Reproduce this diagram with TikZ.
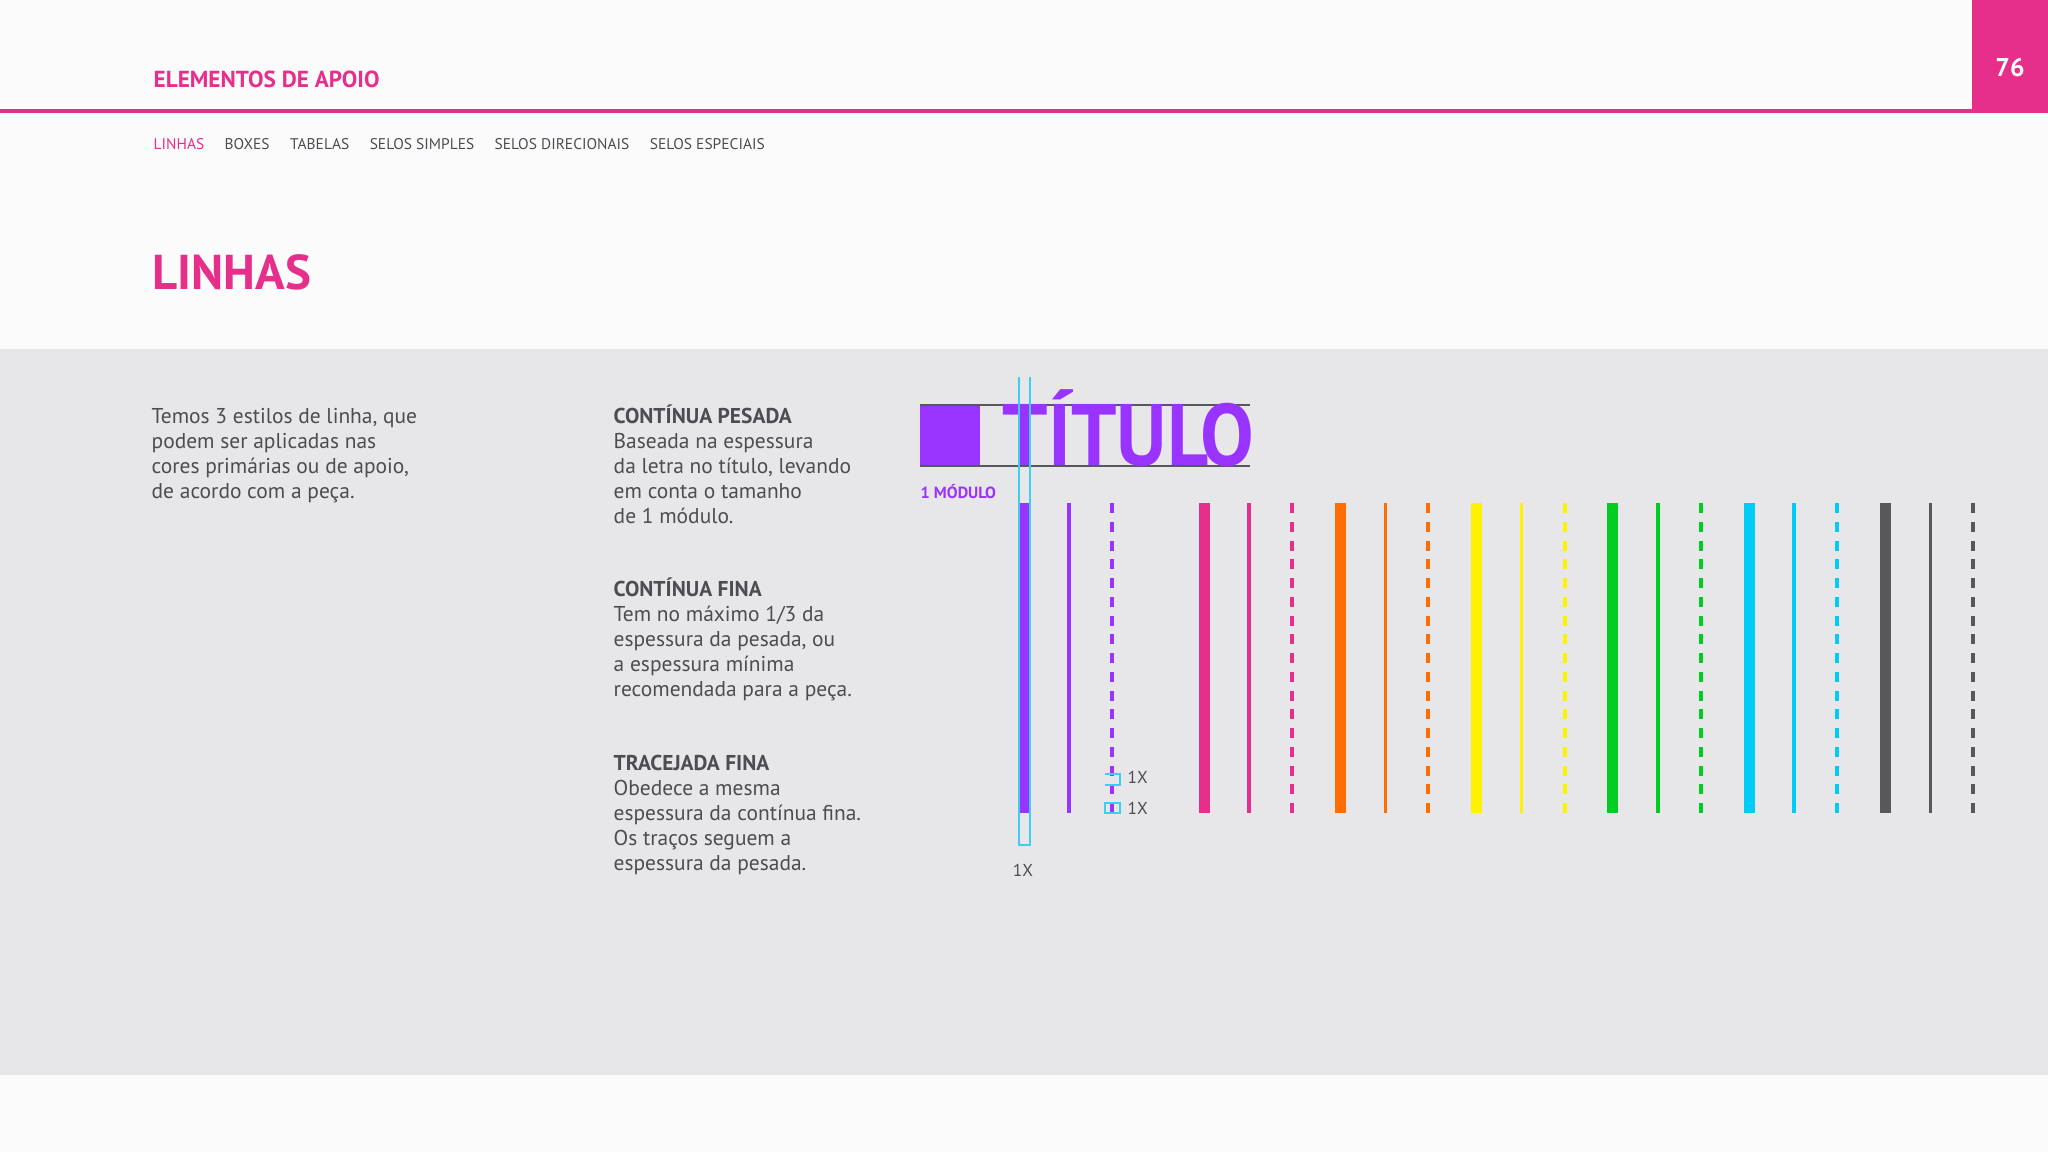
\documentclass[tikz,border=0pt]{standalone}
\usepackage{fontspec}
\setmainfont{PT Sans}
\usetikzlibrary{positioning}

\definecolor{fundo}{HTML}{FCFBFC}
\definecolor{faixa}{HTML}{E7E6E9}
\definecolor{rosa}{HTML}{E62E8B}
\definecolor{roxo}{HTML}{9933FF}
\definecolor{laranja}{HTML}{FF6E00}
\definecolor{amarelo}{HTML}{FFF200}
\definecolor{verde}{HTML}{00CC22}
\definecolor{ciano}{HTML}{00CCF5}
\definecolor{cinza}{HTML}{58575C}
\definecolor{texto}{HTML}{4D4C52}
\definecolor{guia}{HTML}{3CCFEF}

\tikzset{
  corpo/.style={anchor=base west, align=left, inner sep=0pt, text=texto, font=\fontsize{6.1}{7.06}\selectfont},
  menu/.style={anchor=base west, inner sep=0pt, text=texto, font=\fontsize{4.4}{5}\selectfont},
  pesada/.style={line width=1.1mm},
  fina/.style={line width=0.35mm},
  tracejada/.style={line width=0.4mm, dash pattern=on 1mm off 0.875mm},
  medida/.style={guia, line width=0.15mm},
}

\begin{document}
\begin{tikzpicture}[x=0.01cm,y=-0.01cm]
  % sizes (in pixels of the page)
  \def\topo{503}
  \def\base{813}
  \def\passo{1.362cm}
  \def\linha{24.8}

  % page and grey band
  \fill[fundo] (0,0) rectangle (2048,1152);
  \useasboundingbox (0,0) rectangle (2048,1152);
  \fill[faixa] (0,349) rectangle (2048,1075);

  % header
  \fill[rosa] (0,109) rectangle (2048,113);
  \fill[rosa] (1972,0) rectangle (2048,113);
  \node[anchor=base, inner sep=0pt, text=white, font=\fontsize{7.3}{8}\selectfont\bfseries] (pagina) at (2010,77) {76};
  \node[anchor=base west, inner sep=0pt, text=rosa, font=\fontsize{6.6}{8}\selectfont\bfseries] (secao) at (153,88) {ELEMENTOS DE APOIO};

  % menu
  \node[menu, text=rosa] (m1) at (153,150) {LINHAS};
  \node[menu, right=0.19cm of m1.base east, anchor=base west] (m2) {BOXES};
  \node[menu, right=0.19cm of m2.base east, anchor=base west] (m3) {TABELAS};
  \node[menu, right=0.19cm of m3.base east, anchor=base west] (m4) {SELOS SIMPLES};
  \node[menu, right=0.19cm of m4.base east, anchor=base west] (m5) {SELOS DIRECIONAIS};
  \node[menu, right=0.19cm of m5.base east, anchor=base west] (m6) {SELOS ESPECIAIS};

  \node[anchor=base west, inner sep=0pt, text=rosa, font=\fontsize{13.9}{16}\selectfont\bfseries] (titulo) at (152,290) {LINHAS};

  % texts (placed at the baseline of their last line)
  \node[corpo] (intro) at (151,{424+3*\linha}) {Temos 3 estilos de linha, que\\podem ser aplicadas nas\\cores primárias ou de apoio,\\de acordo com a peça.};
  \node[corpo] (pesadatxt) at (613,{424+4*\linha}) {\textbf{CONTÍNUA PESADA}\\Baseada na espessura\\da letra no título, levando\\em conta o tamanho\\de 1 módulo.};
  \node[corpo] (finatxt) at (613,{597+4*\linha}) {\textbf{CONTÍNUA FINA}\\Tem no máximo 1/3 da\\espessura da pesada, ou\\a espessura mínima\\recomendada para a peça.};
  \node[corpo] (tractxt) at (613,{771+4*\linha}) {\textbf{TRACEJADA FINA}\\Obedece a mesma\\espessura da contínua fina.\\Os traços seguem a\\espessura da pesada.};

  % the title sample
  \fill[roxo] (920,405) rectangle (980,466);
  \draw[cinza, line width=0.15mm] (920,405) -- (1250,405);
  \draw[cinza, line width=0.15mm] (920,466) -- (1250,466);
  \node[anchor=base west, inner sep=0pt, text=roxo, font=\fontsize{24.8}{26}\selectfont\bfseries] (amostra) at (1002,466) {\scalebox{0.92}[1]{TÍTULO}};
  \node[anchor=base west, inner sep=0pt, text=roxo, font=\fontsize{4.6}{6}\selectfont\bfseries] (modulo) at (920,499) {1 MÓDULO};

  % purple lines
  \draw[roxo, pesada] (1024.5,\topo) -- (1024.5,\base);
  \draw[roxo, fina] (1069,\topo) -- (1069,\base);
  \draw[roxo, tracejada] (1112,\topo) -- (1112,\base);

  % the other colours
  \foreach \cor [count=\k from 0] in {rosa,laranja,amarelo,verde,ciano,cinza} {
    \begin{scope}[xshift=\k*\passo]
      \draw[\cor, pesada] (1204,\topo) -- (1204,\base);
      \draw[\cor, fina] (1249,\topo) -- (1249,\base);
      \draw[\cor, tracejada] (1292,\topo) -- (1292,\base);
    \end{scope}
  }

  % measures
  \draw[medida] (1019,377) -- (1019,845) -- (1030,845) -- (1030,377);
  \draw[medida] (1105,774) -- (1120,774) -- (1120,785) -- (1105,785);
  \draw[medida] (1105,803) rectangle (1120,813);
  \node[anchor=base west, inner sep=0pt, text=texto, font=\fontsize{4.9}{6}\selectfont] (x1) at (1127,783) {1X};
  \node[anchor=base west, inner sep=0pt, text=texto, font=\fontsize{4.9}{6}\selectfont] (x2) at (1127,814) {1X};
  \node[anchor=base, inner sep=0pt, text=texto, font=\fontsize{4.9}{6}\selectfont] (x3) at (1023,876) {1X};
\end{tikzpicture}
\end{document}
